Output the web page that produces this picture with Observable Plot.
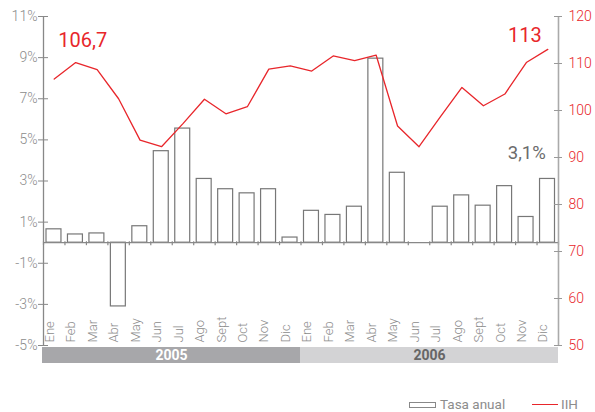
<!DOCTYPE html>
<html>
<head>
<meta charset="utf-8">
<script src="https://cdn.jsdelivr.net/npm/d3@7"></script>
<script src="https://cdn.jsdelivr.net/npm/@observablehq/plot@0.6"></script>
<style>
  html, body { margin: 0; padding: 0; background: #fff; }
  #wrap { position: relative; width: 595px; height: 412px; font-family: Roboto, "Liberation Sans", sans-serif; overflow: hidden; }
  #wrap > svg { position: absolute; left: 0; overflow: visible; }
  #legend { position: absolute; top: 396px; left: 0; width: 595px; height: 16px; font-size: 13.5px; color: #8c8c8c; }
  #legend .sw { position: absolute; }
  #legend .lbl { position: absolute; top: 0; line-height: 16px; }
</style>
</head>
<body>
<div id="wrap"><div id="legend"></div></div>
<script>
// ---- data ----
const years = ["2005", "2006"];
const months = ["Ene", "Feb", "Mar", "Abr", "May", "Jun", "Jul", "Ago", "Sept", "Oct", "Nov", "Dic"];
const tasa2005 = [0.65, 0.4, 0.45, -3.1, 0.8, 4.45, 5.55, 3.1, 2.6, 2.4, 2.6, 0.25];
const tasa2006 = [1.55, 1.35, 1.75, 8.95, 3.4, 0, 1.75, 2.3, 1.8, 2.75, 1.25, 3.1];
const iih2005 = [106.7, 110.2, 108.7, 102.5, 93.7, 92.3, 97.2, 102.4, 99.3, 100.8, 108.8, 109.5];
const iih2006 = [108.4, 111.6, 110.6, 111.8, 96.7, 92.3, 98.7, 104.9, 101.0, 103.5, 110.2, 113];
const pctTicks = [-5, -3, -1, 1, 3, 5, 7, 9, 11];
const iihTicks = [50, 60, 70, 80, 90, 100, 110, 120];
const seriesNames = ["Tasa anual", "IIH"];

// ---- derived table ----
const tasaByYear = [tasa2005, tasa2006];
const iihByYear = [iih2005, iih2006];
const rows = [];
years.forEach((y, yi) => months.forEach((m, mi) => {
  rows.push({idx: yi * 12 + mi, year: y, month: m, tasa: tasaByYear[yi][mi], iih: iihByYear[yi][mi]});
}));
const yearRows = years.map((y, yi) => ({year: y, start: yi * 12, end: yi * 12 + 12}));
const fmt = v => String(v).replace(".", ",");
const first = rows[0], last = rows[rows.length - 1];

// ---- style constants ----
const W = 595, H = 350, mL = 43, mR = 37, mT = 16, mB = 5;
const GRAY = "#8c8c8c", RED = "#e8262b";
const FONT = "Roboto, 'Liberation Sans', sans-serif";
const wrap = document.getElementById("wrap");

// ---- bars + left axis ----
const plotA = Plot.plot({
  width: W, height: H, marginLeft: mL, marginRight: mR, marginTop: mT, marginBottom: mB,
  style: {fontFamily: FONT, fontSize: "14px", color: GRAY, background: "transparent", overflow: "visible", fontWeight: 300},
  x: {domain: [0, 24], axis: null},
  y: {domain: [-5, 11], ticks: pctTicks, tickFormat: d => d + "%", tickSize: 0, tickPadding: 6, label: null},
  marks: [
    Plot.rectY(rows.filter(d => d.tasa !== 0), {x: "idx", y: "tasa", interval: 1, insetLeft: 3, insetRight: 3.5, fill: "white", stroke: "#777", strokeWidth: 1.2}),
    Plot.ruleY([0], {stroke: "#888", strokeWidth: 1.2}),
    Plot.ruleX(d3.range(25), {x: d => d, y1: 0, y2: 0, insetTop: -1, insetBottom: -3, stroke: "#888", strokeWidth: 1.2}),
    Plot.ruleX([0], {y1: -5, y2: 11, stroke: "#888", strokeWidth: 1.3}),
    Plot.ruleY(pctTicks, {y: d => d, x1: 0, x2: 0, insetLeft: -5, insetRight: -5, stroke: "#888"}),
    Plot.text(rows, {x: d => d.idx + 0.5, y: -5, text: "month", rotate: -90, textAnchor: "start", dx: -4.5, dy: -3, fill: GRAY, fontSize: 13}),
    Plot.text([last], {x: d => d.idx + 0.5, y: "tasa", text: d => fmt(d.tasa) + "%", textAnchor: "end", dx: -2, dy: -25.5, fill: "#6b6b6b", fontSize: 18.5, fontWeight: 400})
  ]
});
plotA.style.top = "0px";
wrap.appendChild(plotA);

// ---- line + right axis ----
const plotB = Plot.plot({
  width: W, height: H, marginLeft: mL, marginRight: mR, marginTop: mT, marginBottom: mB,
  style: {fontFamily: FONT, fontSize: "14px", color: RED, background: "transparent", overflow: "visible", fontWeight: 300},
  x: {domain: [0, 24], axis: null},
  y: {domain: [50, 120], axis: "right", ticks: iihTicks, tickSize: 0, tickPadding: 10, label: null},
  marks: [
    Plot.ruleX([24], {y1: 50, y2: 120, stroke: "#aaa", strokeWidth: 1.6}),
    Plot.ruleY(iihTicks, {y: d => d, x1: 24, x2: 24, insetLeft: -4, insetRight: -4, stroke: "#999"}),
    Plot.line(rows, {x: d => d.idx + 0.5, y: "iih", stroke: RED, strokeWidth: 1.3}),
    Plot.text([first], {x: d => d.idx + 0.5, y: "iih", text: d => fmt(d.iih), textAnchor: "start", dx: 4, dy: -38, fill: RED, fontSize: 20, fontWeight: 400}),
    Plot.text([last], {x: d => d.idx + 0.5, y: "iih", text: d => fmt(d.iih), textAnchor: "end", dx: -6, dy: -14, fill: RED, fontSize: 20, fontWeight: 400})
  ]
});
plotB.style.top = "0px";
wrap.appendChild(plotB);

// ---- year band ----
const plotC = Plot.plot({
  width: W, height: 16, marginLeft: 42, marginRight: mR, marginTop: 0, marginBottom: 0,
  style: {fontFamily: FONT, fontSize: "14px", background: "transparent", overflow: "visible"},
  x: {domain: [0, 24], axis: null},
  marks: [
    Plot.rect([yearRows[0]], {x1: "start", x2: "end", fill: "#a7a7aa"}),
    Plot.rect([yearRows[1]], {x1: "start", x2: "end", fill: "#d3d3d5"}),
    Plot.text([yearRows[0]], {x: d => (d.start + d.end) / 2, frameAnchor: "middle", text: "year", fill: "white", fontWeight: "bold", fontSize: 14}),
    Plot.text([yearRows[1]], {x: d => (d.start + d.end) / 2, frameAnchor: "middle", text: "year", fill: "#666", fontWeight: "bold", fontSize: 14})
  ]
});
plotC.style.top = "347px";
wrap.appendChild(plotC);

// ---- legend ----
const legend = document.getElementById("legend");
legend.innerHTML =
  `<div class="sw" style="left:409px;top:6px;width:25px;height:4px;border:1px solid #888;background:#fff"></div>` +
  `<div class="lbl" style="left:440px">${seriesNames[0]}</div>` +
  `<div class="sw" style="left:532px;top:7.5px;width:26px;height:0;border-top:1.3px solid ${RED}"></div>` +
  `<div class="lbl" style="left:561px">${seriesNames[1]}</div>`;
</script>
</body>
</html>
